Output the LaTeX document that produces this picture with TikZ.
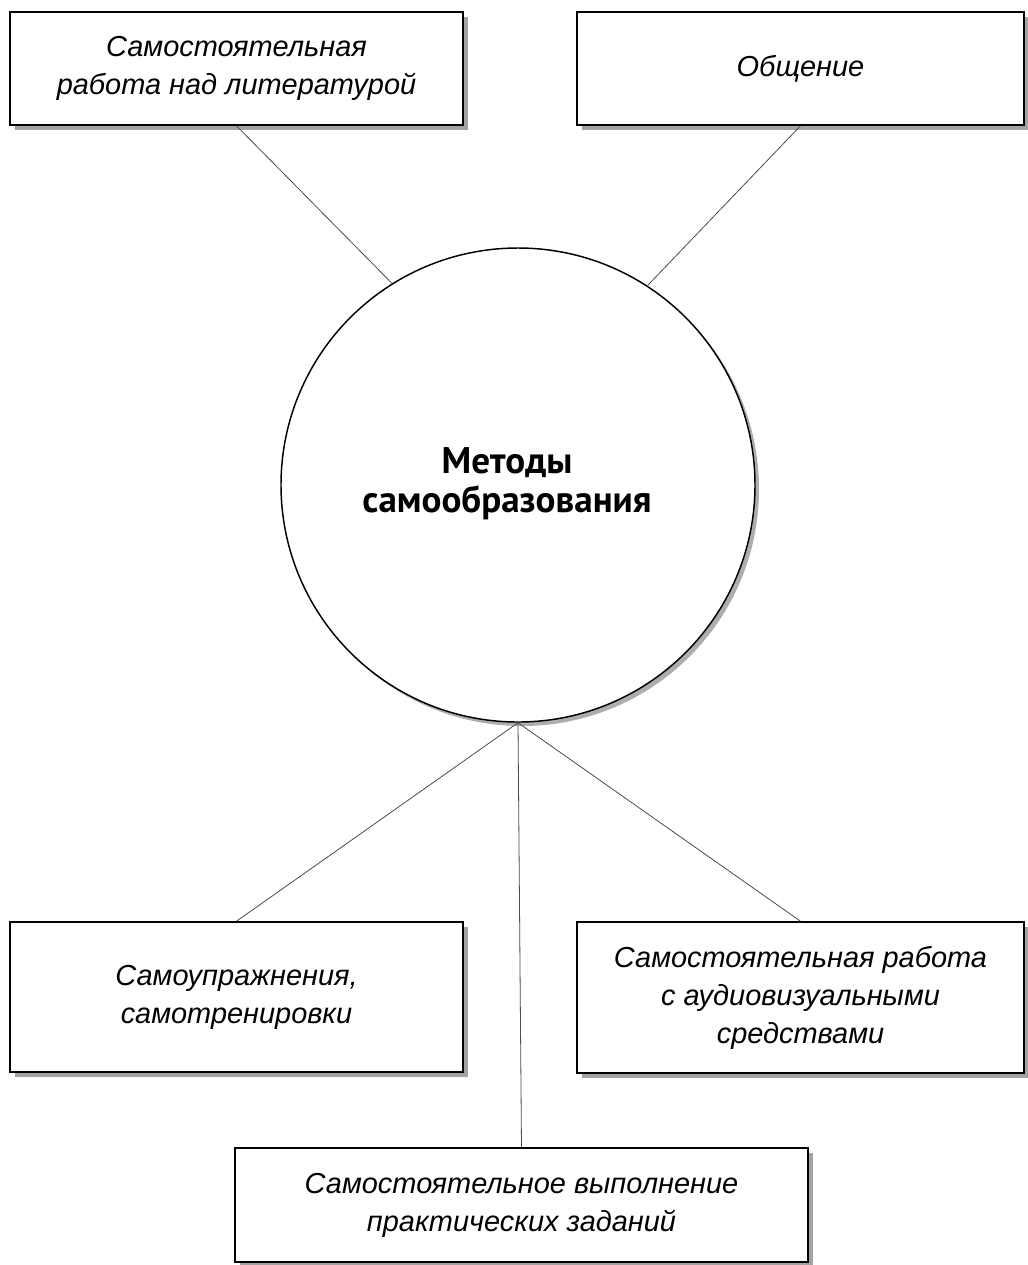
\documentclass[tikz,border=0pt]{standalone}
\usepackage{fontspec}
\setmainfont{Liberation Sans}
\newfontfamily\boldfont{PT Sans}
\usetikzlibrary{shadows}
\tikzset{
  box/.style={draw=black, line width=1.2pt, fill=white, align=center,
    font=\fontsize{21.7}{28.5}\selectfont\itshape, inner sep=0pt,
    drop shadow={shadow xshift=4pt, shadow yshift=-3.5pt, fill=black!45, opacity=0.8}},
  hub/.style={circle, draw=black, line width=1.1pt, fill=white,
    minimum size=355.5pt, inner sep=0pt,
    drop shadow={shadow xshift=3pt, shadow yshift=-3pt, fill=black!40, opacity=0.8}},
  hubtext/.style={align=center, inner sep=0pt,
    font=\boldfont\bfseries\fontsize{27.8}{29}\selectfont},
  link/.style={draw=black!70, line width=0.6pt}
}
\begin{document}
\begin{tikzpicture}[x=0.75pt, y=-0.75pt]
\useasboundingbox[fill=white] (0,0) rectangle (1028,1265);
\node[hub] (c) at (518,485) {};
\node[hubtext] (ct) at (507,484) {Методы\\самообразования};
\node[box, minimum width=339.75pt, minimum height=84.75pt] (b1) at (236.5,68.5) {Самостоятельная\\работа над литературой};
\node[box, minimum width=335.25pt, minimum height=84.75pt] (b2) at (800.5,68.5) {Общение};
\node[box, minimum width=339.75pt, minimum height=112.5pt] (b3) at (236.5,997) {Самоупражнения,\\самотренировки};
\node[box, minimum width=335.25pt, minimum height=113.25pt] (b4) at (800.5,997.5) {Самостоятельная работа\\с аудиовизуальными\\средствами};
\node[box, minimum width=429.75pt, minimum height=85.5pt] (b5) at (521.5,1205) {Самостоятельное выполнение\\практических заданий};
\draw[link] (b1.south) -- (c.122);
\draw[link] (b2.south) -- (c.57);
\draw[link] (c.south) -- (b3.north);
\draw[link] (c.south) -- (b4.north);
\draw[link] (c.south) -- (b5.north);
\end{tikzpicture}
\end{document}
